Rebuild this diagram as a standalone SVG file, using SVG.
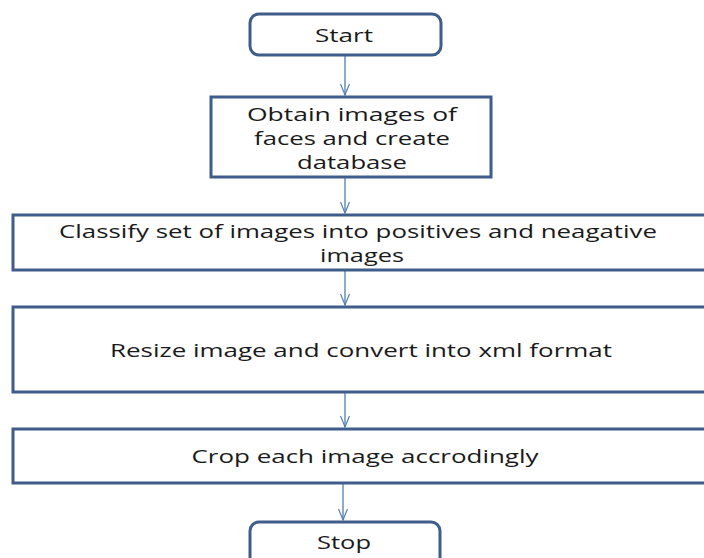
<svg xmlns="http://www.w3.org/2000/svg" width="704" height="558" viewBox="0 0 704 558">
<defs>
<style>
.box{fill:#ffffff;stroke:#3e5d8a;stroke-width:3}
.t{font-family:"Open Sans","Liberation Sans",sans-serif;font-size:18px;fill:#1a1a1a;text-anchor:middle;dominant-baseline:central}
.c{stroke:#4f7db3;stroke-width:1.3;fill:none}
</style>
<marker id="ah" markerWidth="14" markerHeight="10" refX="12" refY="5" orient="auto" markerUnits="userSpaceOnUse">
<path d="M1,0.5 L12,5 L1,9.5" fill="none" stroke="#4f7db3" stroke-width="1.2"/>
</marker>
</defs>
<rect width="704" height="558" fill="#ffffff"/>
<g id="connectors">
<line class="c" x1="345" y1="55" x2="345" y2="95" marker-end="url(#ah)"/>
<line class="c" x1="345" y1="178" x2="345" y2="213" marker-end="url(#ah)"/>
<line class="c" x1="345" y1="271" x2="345" y2="305" marker-end="url(#ah)"/>
<line class="c" x1="345" y1="393" x2="345" y2="427" marker-end="url(#ah)"/>
<line class="c" x1="343" y1="484" x2="343" y2="520" marker-end="url(#ah)"/>
</g>
<g id="start">
<rect class="box" x="250" y="14" width="191" height="41" rx="9"/>
<text class="t" x="344" y="35" textLength="58" lengthAdjust="spacingAndGlyphs">Start</text>
</g>
<g id="obtain">
<rect class="box" x="211" y="97" width="280" height="80"/>
<text class="t" x="352" y="114" textLength="210" lengthAdjust="spacingAndGlyphs">Obtain images of</text>
<text class="t" x="352" y="138" textLength="196" lengthAdjust="spacingAndGlyphs">faces and create</text>
<text class="t" x="352" y="162" textLength="110" lengthAdjust="spacingAndGlyphs">database</text>
</g>
<g id="classify">
<rect class="box" x="13" y="215" width="700" height="55"/>
<text class="t" x="358" y="231" textLength="598" lengthAdjust="spacingAndGlyphs">Classify set of images into positives and neagative</text>
<text class="t" x="362" y="255" textLength="84" lengthAdjust="spacingAndGlyphs">images</text>
</g>
<g id="resize">
<rect class="box" x="13" y="307" width="700" height="85"/>
<text class="t" x="361" y="350" textLength="502" lengthAdjust="spacingAndGlyphs">Resize image and convert into xml format</text>
</g>
<g id="crop">
<rect class="box" x="13" y="429" width="700" height="54"/>
<text class="t" x="365" y="456" textLength="347" lengthAdjust="spacingAndGlyphs">Crop each image accrodingly</text>
</g>
<g id="stop">
<rect class="box" x="250" y="522" width="190" height="45" rx="9"/>
<text class="t" x="344" y="542" textLength="54" lengthAdjust="spacingAndGlyphs">Stop</text>
</g>
</svg>
